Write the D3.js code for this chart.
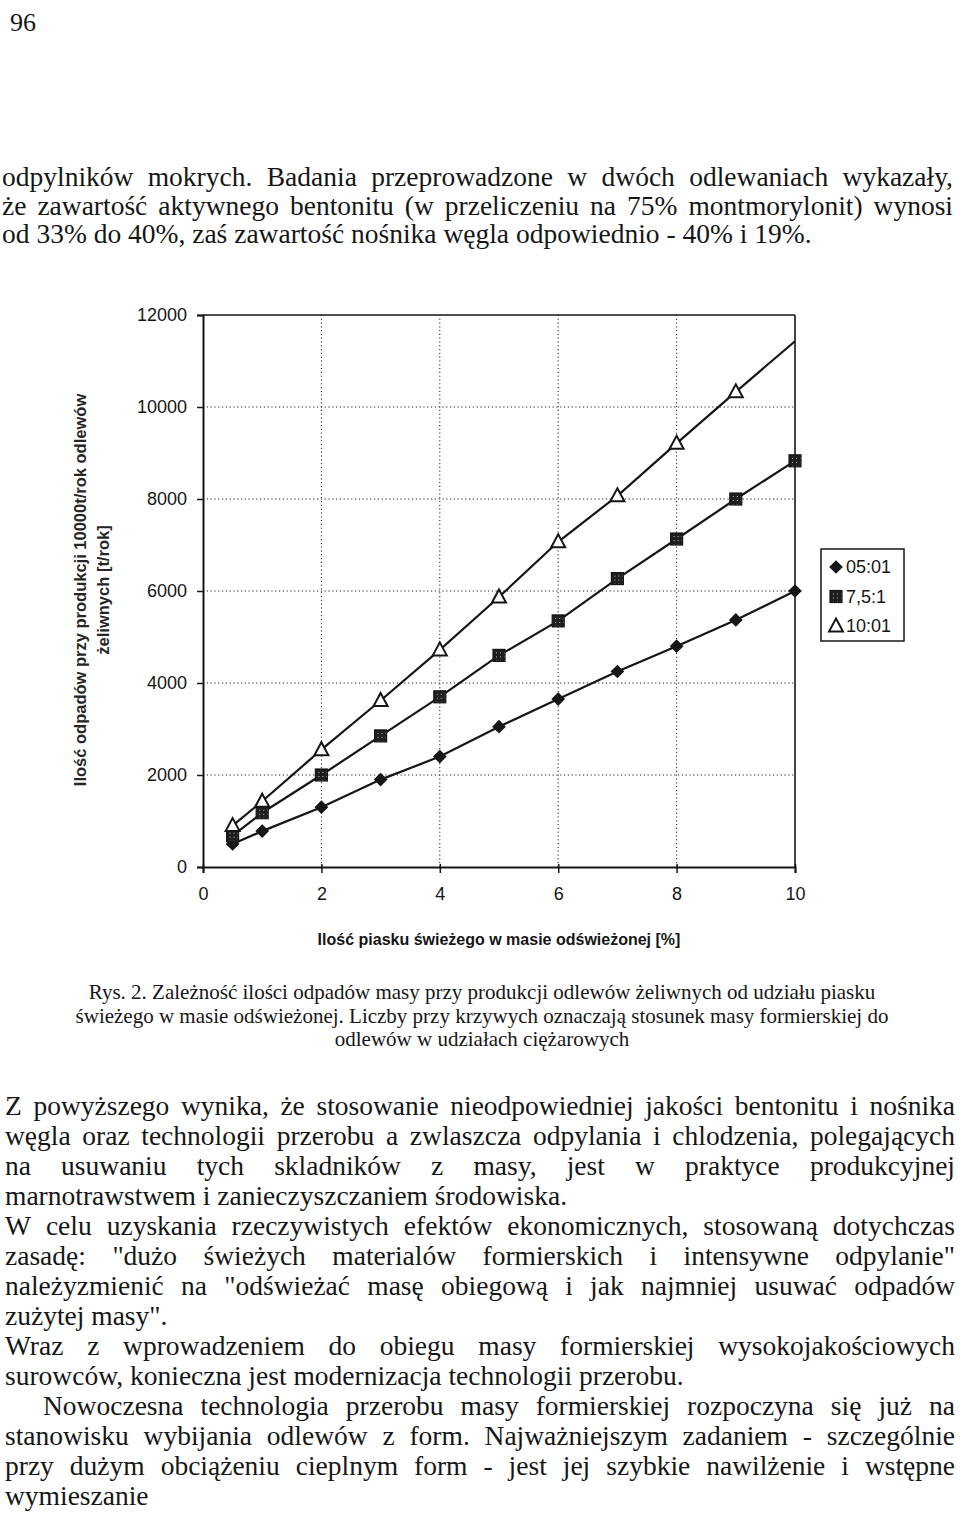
<!DOCTYPE html>
<html><head><meta charset="utf-8">
<script src="https://cdn.jsdelivr.net/npm/d3@7"></script>
<style>body{margin:0;background:#fff}svg{display:block}</style>
</head><body>
<svg id="page" width="960" height="1524"></svg>
<script>
// ---------- chart data ----------
const xValues   = [0.5, 1, 2, 3, 4, 5, 6, 7, 8, 9, 10];
const series05  = [500, 780, 1300, 1900, 2400, 3050, 3650, 4250, 4800, 5370, 6000];
const series75  = [680, 1180, 2000, 2850, 3700, 4600, 5350, 6270, 7130, 8000, 8830];
const series10  = [900, 1430, 2550, 3620, 4720, 5870, 7070, 8070, 9210, 10330, 11430];
const seriesNames = ["05:01", "7,5:1", "10:01"];
const seriesMarkers = ["diamond", "square", "triangle"];
const markerShownLast = [true, true, false];
const xTicks = [0, 2, 4, 6, 8, 10];
const yTicks = [0, 2000, 4000, 6000, 8000, 10000, 12000];
const xTitle = "Ilość piasku świeżego w masie odświeżonej [%]";
const yTitleLines = ["Ilość odpadów przy produkcji 10000t/rok odlewów", "żeliwnych [t/rok]"];

// ---------- page text ----------
const pageNumber = "96";
const introLines = [
  {t: "odpylników mokrych. Badania przeprowadzone w dwóch odlewaniach wykazały,", j: true},
  {t: "że zawartość aktywnego bentonitu (w przeliczeniu na 75% montmorylonit) wynosi", j: true},
  {t: "od 33% do 40%, zaś zawartość nośnika węgla odpowiednio - 40% i 19%.", j: false}
];
const captionLines = [
  "Rys. 2. Zależność ilości odpadów masy przy produkcji odlewów żeliwnych od udziału piasku",
  "świeżego w masie odświeżonej. Liczby przy krzywych oznaczają stosunek masy formierskiej do",
  "odlewów w udziałach ciężarowych"
];
const bodyLines = [
  {t: "Z powyższego wynika, że stosowanie nieodpowiedniej jakości bentonitu i nośnika", j: true},
  {t: "węgla oraz technologii przerobu a zwlaszcza odpylania i chlodzenia, polegających", j: true},
  {t: "na usuwaniu tych skladników z masy, jest w praktyce produkcyjnej", j: true},
  {t: "marnotrawstwem i zanieczyszczaniem środowiska.", j: false},
  {t: "W celu uzyskania rzeczywistych efektów ekonomicznych, stosowaną dotychczas", j: true},
  {t: "zasadę: \"dużo świeżych materialów formierskich i intensywne odpylanie\"", j: true},
  {t: "należyzmienić na \"odświeżać masę obiegową i jak najmniej usuwać odpadów", j: true},
  {t: "zużytej masy\".", j: false},
  {t: "Wraz z wprowadzeniem do obiegu masy formierskiej wysokojakościowych", j: true},
  {t: "surowców, konieczna jest modernizacja technologii przerobu.", j: false},
  {t: "Nowoczesna technologia przerobu masy formierskiej rozpoczyna się już na", j: true, indent: 38},
  {t: "stanowisku wybijania odlewów z form. Najważniejszym zadaniem - szczególnie", j: true},
  {t: "przy dużym obciążeniu cieplnym form - jest jej szybkie nawilżenie i wstępne", j: true},
  {t: "wymieszanie", j: false}
];

const svg = d3.select("#page");
const SERIF = "'Liberation Serif','Times New Roman',serif";
const SANS = "'Liberation Sans',Arial,sans-serif";
const INK = "#161616";

// pattern for square markers
const defs = svg.append("defs");
const pat = defs.append("pattern").attr("id", "speck").attr("width", 4).attr("height", 4)
  .attr("patternUnits", "userSpaceOnUse");
pat.append("rect").attr("width", 4).attr("height", 4).attr("fill", "#1e1e1e");
pat.append("rect").attr("x", 1).attr("y", 1).attr("width", 1).attr("height", 1).attr("fill", "#bbb");

// text helper: justified line
function textLine(g, str, x0, x1, y, fs, justify) {
  if (!justify) {
    g.append("text").attr("x", x0).attr("y", y).attr("font-family", SERIF)
      .attr("font-size", fs).attr("fill", INK).text(str);
    return;
  }
  const words = str.split(" ");
  const nodes = words.map(w => g.append("text").attr("y", y).attr("font-family", SERIF)
      .attr("font-size", fs).attr("fill", INK).text(w));
  const widths = nodes.map(n => n.node().getComputedTextLength());
  const total = d3.sum(widths);
  const avail = x1 - x0;
  let gap = (avail - total) / (words.length - 1);
  let scale = 1;
  const minGap = fs * 0.2;
  if (gap < minGap) {
    scale = (avail - minGap * (words.length - 1)) / total;
    gap = minGap;
  }
  let x = x0;
  nodes.forEach((n, i) => {
    const w = widths[i] * scale;
    n.attr("x", x);
    if (scale !== 1) n.attr("textLength", w).attr("lengthAdjust", "spacingAndGlyphs");
    x += w + gap;
  });
}

// ---------- page text ----------
const BODY_FS = 27.5;
const tg = svg.append("g");
tg.append("text").attr("x", 10).attr("y", 31).attr("font-family", SERIF)
  .attr("font-size", 26).attr("fill", INK).text(pageNumber);

introLines.forEach((l, i) => textLine(tg, l.t, 2, 953, 186 + i * 28.5, BODY_FS, l.j));

captionLines.forEach((l, i) => {
  tg.append("text").attr("x", 482).attr("y", 999 + i * 23.5).attr("text-anchor", "middle")
    .attr("font-family", SERIF).attr("font-size", 21).attr("fill", INK).text(l);
});

bodyLines.forEach((l, i) => textLine(tg, l.t, 5 + (l.indent || 0), 955, 1115 + i * 30, BODY_FS, l.j));

// ---------- chart ----------
const x = d3.scaleLinear().domain([0, 10]).range([203, 795]);
const y = d3.scaleLinear().domain([0, 12000]).range([867, 315]);
const cg = svg.append("g");

// dotted grid
cg.append("g").selectAll("line").data(yTicks.filter(v => v > 0 && v < 12000)).join("line")
  .attr("x1", x(0)).attr("x2", x(10)).attr("y1", d => y(d)).attr("y2", d => y(d))
  .attr("stroke", "#222").attr("stroke-width", 1).attr("stroke-dasharray", "1.2,2.6");
cg.append("g").selectAll("line").data(xTicks.filter(v => v > 0 && v < 10)).join("line")
  .attr("x1", d => x(d)).attr("x2", d => x(d)).attr("y1", y(0)).attr("y2", y(12000))
  .attr("stroke", "#222").attr("stroke-width", 1).attr("stroke-dasharray", "1.2,2.6");

// frame top/right
cg.append("line").attr("x1", x(0)).attr("x2", x(10)).attr("y1", y(12000)).attr("y2", y(12000))
  .attr("stroke", INK).attr("stroke-width", 1.6);
cg.append("line").attr("x1", x(10)).attr("x2", x(10)).attr("y1", y(0)).attr("y2", y(12000))
  .attr("stroke", INK).attr("stroke-width", 1.6);

// axes
const yAxis = cg.append("g").attr("transform", `translate(${x(0)},0)`)
  .call(d3.axisLeft(y).tickValues(yTicks).tickSize(6).tickPadding(10).tickFormat(d3.format("d")));
const xAxis = cg.append("g").attr("transform", `translate(0,${y(0)})`)
  .call(d3.axisBottom(x).tickValues(xTicks).tickSize(6).tickPadding(14).tickFormat(d3.format("d")));
[yAxis, xAxis].forEach(a => {
  a.select(".domain").attr("stroke", INK).attr("stroke-width", 2);
  a.selectAll(".tick line").attr("stroke", INK).attr("stroke-width", 1.5);
  a.selectAll("text").attr("font-family", SANS).attr("font-size", 18).attr("fill", INK);
});
xAxis.selectAll(".tick line").attr("y1", -3);

// axis titles
cg.append("text").attr("x", 499).attr("y", 945).attr("text-anchor", "middle")
  .attr("font-family", SANS).attr("font-weight", "bold").attr("font-size", 16)
  .attr("fill", INK).text(xTitle);
yTitleLines.forEach((t, i) => {
  cg.append("text").attr("transform", `translate(${86 + i * 23},590) rotate(-90)`)
    .attr("text-anchor", "middle").attr("font-family", SANS).attr("font-weight", "bold")
    .attr("font-size", 16.5).attr("fill", "#262626").text(t);
});

// series
const allSeries = [series05, series75, series10];
const line = d3.line().x(d => x(d[0])).y(d => y(d[1]));
function marker(sel, type) {
  if (type === "diamond") {
    sel.append("path").attr("d", d3.symbol(d3.symbolDiamond2, 120)()).attr("fill", INK);
  } else if (type === "square") {
    sel.append("rect").attr("x", -6).attr("y", -6).attr("width", 12).attr("height", 12)
      .attr("fill", "url(#speck)").attr("stroke", INK).attr("stroke-width", 1.2);
  } else {
    sel.append("path").attr("d", "M0,-7.5L7,5.5L-7,5.5Z").attr("fill", "#fff")
      .attr("stroke", INK).attr("stroke-width", 2).attr("stroke-linejoin", "miter");
  }
}
allSeries.forEach((vals, si) => {
  const pts = xValues.map((xv, i) => [xv, vals[i]]);
  cg.append("path").datum(pts).attr("d", line).attr("fill", "none")
    .attr("stroke", INK).attr("stroke-width", 2.2);
});
allSeries.forEach((vals, si) => {
  const pts = xValues.map((xv, i) => [xv, vals[i]])
    .filter((p, i) => i < xValues.length - 1 || markerShownLast[si]);
  cg.append("g").selectAll("g").data(pts).join("g")
    .attr("transform", d => `translate(${x(d[0])},${y(d[1])})`)
    .each(function() { marker(d3.select(this), seriesMarkers[si]); });
});

// legend
const lg = cg.append("g");
lg.append("rect").attr("x", 821).attr("y", 549).attr("width", 83).attr("height", 92)
  .attr("fill", "#fff").attr("stroke", INK).attr("stroke-width", 1.5);
seriesNames.forEach((n, i) => {
  const cy = 567 + i * 29.5;
  const m = lg.append("g").attr("transform", `translate(836,${cy})`);
  marker(m, seriesMarkers[i]);
  lg.append("text").attr("x", 846).attr("y", cy).attr("dy", "0.35em")
    .attr("font-family", SANS).attr("font-size", 18).attr("fill", INK).text(n);
});
</script>
</body></html>
